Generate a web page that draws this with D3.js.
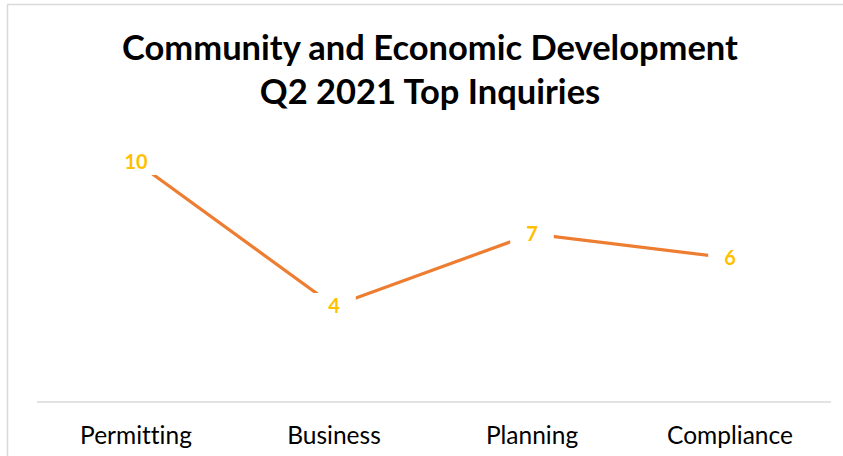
<!DOCTYPE html>
<html>
<head>
<meta charset="utf-8">
<script src="https://cdn.jsdelivr.net/npm/d3@7"></script>
<style>
  html, body { margin: 0; padding: 0; background: #fff; }
  svg { display: block; font-family: Lato, "Open Sans", sans-serif; font-variant-ligatures: none; }
</style>
</head>
<body>
<svg id="chart" width="843" height="456"></svg>
<script>
// Top inquiries by category
const titleLines = ["Community and Economic Development", "Q2 2021 Top Inquiries"];
const categories = ["Permitting", "Business", "Planning", "Compliance"];
const inquiries = [10, 4, 7, 6];
const yDomain = [0, 12];

const svg = d3.select("#chart");
const W = 843, H = 456;

// Chart area frame
svg.append("rect")
  .attr("x", 7.5).attr("y", 4.5)
  .attr("width", W + 20).attr("height", H + 20)
  .attr("fill", "#fff")
  .attr("stroke", "#d9d9d9")
  .attr("stroke-width", 1.5);

// Title
const title = svg.append("text")
  .attr("text-anchor", "middle")
  .attr("font-weight", 700)
  .attr("font-size", 34.5)
  .attr("fill", "#000");
title.selectAll("tspan")
  .data(titleLines)
  .join("tspan")
  .attr("x", 430)
  .attr("y", (d, i) => 60 + i * 44)
  .text(d => d);

// Scales
const x = d3.scaleBand().domain(categories).range([37, 829]);
const y = d3.scaleLinear().domain(yDomain).range([402, 114]);

// Category axis
const axis = svg.append("g")
  .attr("transform", "translate(0,402)")
  .call(d3.axisBottom(x).tickSize(0).tickPadding(0));
axis.select(".domain")
  .attr("d", "M37,0H831")
  .attr("stroke", "#d9d9d9")
  .attr("stroke-width", 1.5);
axis.selectAll(".tick text")
  .attr("y", 42)
  .attr("dy", null)
  .attr("font-family", "Lato, 'Open Sans', sans-serif")
  .attr("font-size", 24.5)
  .attr("fill", "#000");

const cx = d => x(d) + x.bandwidth() / 2;
const pts = categories.map((c, i) => ({ c, v: inquiries[i] }));

// Series line
svg.append("path")
  .datum(pts)
  .attr("fill", "none")
  .attr("stroke", "#ED7D31")
  .attr("stroke-width", 3.2)
  .attr("d", d3.line().x(d => cx(d.c)).y(d => y(d.v)));

// Value labels with white boxes over the line
const labels = svg.append("g")
  .selectAll("g")
  .data(pts)
  .join("g")
  .attr("transform", d => `translate(${cx(d.c)},${y(d.v)})`);

labels.append("text")
  .attr("text-anchor", "middle")
  .attr("y", 7)
  .attr("font-weight", 700)
  .attr("font-size", 20)
  .attr("fill", "#FFC000")
  .text(d => d.v);

labels.each(function () {
  const g = d3.select(this);
  const w = g.select("text").node().getComputedTextLength();
  g.insert("rect", "text")
    .attr("x", -(w / 2 + 16))
    .attr("y", -13)
    .attr("width", w + 32)
    .attr("height", 26)
    .attr("fill", "#fff");
});
</script>
</body>
</html>
